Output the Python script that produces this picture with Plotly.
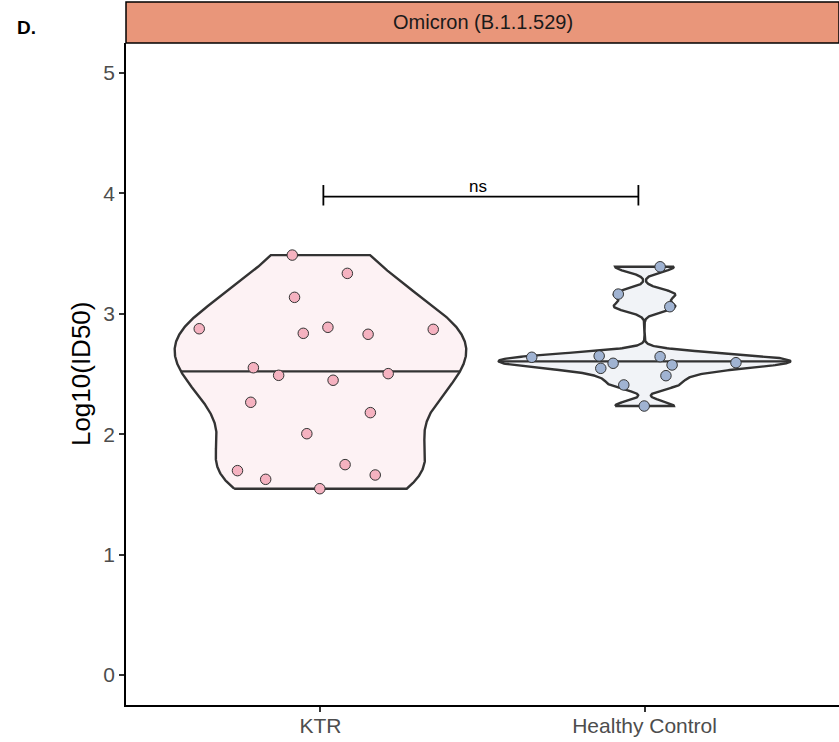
import numpy as np
import plotly.graph_objects as go

# ---------------- data ----------------
categories = ["KTR", "Healthy Control"]
facet_label = "Omicron (B.1.1.529)"
panel_tag = "D."

ktr_values = [3.488, 3.336, 3.137, 2.876, 2.838, 2.888, 2.830, 2.871, 2.552, 2.489,
              2.448, 2.503, 2.265, 2.179, 2.004, 1.697, 1.625, 1.747, 1.661, 1.547]
ktr_jitter = [-0.087, 0.083, -0.080, -0.374, -0.053, 0.023, 0.147, 0.348, -0.207, -0.129,
              0.039, 0.209, -0.215, 0.154, -0.042, -0.256, -0.169, 0.076, 0.169, -0.002]

hc_values = [3.391, 3.164, 3.059, 2.639, 2.650, 2.589, 2.644, 2.575, 2.594, 2.547,
             2.486, 2.409, 2.234]
hc_jitter = [0.048, -0.081, 0.078, -0.348, -0.140, -0.097, 0.048, 0.085, 0.282, -0.135,
             0.066, -0.064, -0.001]

y_ticks = [0, 1, 2, 3, 4, 5]
y_title = "Log10(ID50)"

# significance bracket (comparison KTR vs Healthy Control)
sig_label = "ns"
sig_x = [1.009, 1.981]
sig_y = 3.973
sig_tip = [3.90, 4.07]

# ---------------- styles ----------------
point_colors = ["#F5B2C0", "#A0B3D2"]
violin_fills = ["#FDF2F4", "#F1F3F7"]
outline = "#333333"
violin_width = 0.9
FONT = "Liberation Sans, Arial, sans-serif"


def bw_nrd0(v):
    v = np.asarray(v, dtype=float)
    sd = np.std(v, ddof=1)
    q75, q25 = np.percentile(v, [75, 25])
    lo = min(sd, (q75 - q25) / 1.34)
    return 0.9 * lo * len(v) ** -0.2


def violin_profile(vals):
    v = np.asarray(vals, dtype=float)
    bw = bw_nrd0(v)
    y = np.linspace(v.min(), v.max(), 512)
    d = np.exp(-0.5 * ((y[:, None] - v[None, :]) / bw) ** 2).sum(1) / (len(v) * bw * np.sqrt(2 * np.pi))
    w = d / d.max()
    cdf = np.cumsum(d) / d.sum()
    ymed = float(np.interp(0.5, cdf, y))
    wmed = float(np.interp(ymed, y, w))
    return y, w, ymed, wmed


fig = go.Figure()

groups = [(ktr_values, ktr_jitter), (hc_values, hc_jitter)]
for i, (vals, jit) in enumerate(groups):
    pos = i + 1
    y, w, ymed, wmed = violin_profile(vals)
    half = w * violin_width / 2
    xs = np.concatenate([pos - half, (pos + half)[::-1], [pos - half[0]]])
    ys = np.concatenate([y, y[::-1], [y[0]]])
    fig.add_trace(go.Scatter(x=xs, y=ys, mode="lines", fill="toself",
                             fillcolor=violin_fills[i],
                             line=dict(color=outline, width=2.4),
                             hoverinfo="skip", showlegend=False))
    hm = wmed * violin_width / 2
    fig.add_trace(go.Scatter(x=[pos - hm, pos + hm], y=[ymed, ymed], mode="lines",
                             line=dict(color=outline, width=2.4),
                             hoverinfo="skip", showlegend=False))

for i, (vals, jit) in enumerate(groups):
    pos = i + 1
    fig.add_trace(go.Scatter(x=[pos + j for j in jit], y=vals, mode="markers",
                             marker=dict(size=10.5, color=point_colors[i],
                                         line=dict(color="#333333", width=1)),
                             name=categories[i], showlegend=False))

# significance bracket
fig.add_shape(type="line", xref="x", yref="y", x0=sig_x[0], x1=sig_x[1], y0=sig_y, y1=sig_y,
              line=dict(color="black", width=1.8))
for xx in sig_x:
    fig.add_shape(type="line", xref="x", yref="y", x0=xx, x1=xx, y0=sig_tip[0], y1=sig_tip[1],
                  line=dict(color="black", width=1.8))
fig.add_annotation(x=(sig_x[0] + sig_x[1]) / 2 - 0.008, y=sig_y, xref="x", yref="y", text=sig_label,
                   showarrow=False, yanchor="bottom", yshift=-1,
                   font=dict(family=FONT, size=17, color="black"))

# facet strip
strip_top = 1.062
fig.add_shape(type="rect", xref="paper", yref="paper", x0=0, x1=1, y0=1.0, y1=strip_top,
              fillcolor="#E9967A", line=dict(color="black", width=1.5), layer="above")
fig.add_annotation(x=0.5, y=(1.0 + strip_top) / 2, xref="paper", yref="paper",
                   text=facet_label, showarrow=False, xanchor="center", yanchor="middle",
                   font=dict(family=FONT, size=20, color="#1A1A1A"))

# y-axis title
fig.add_annotation(x=-0.063, y=0.5, xref="paper", yref="paper", text=y_title, textangle=-90,
                   showarrow=False, xanchor="center", yanchor="middle",
                   font=dict(family=FONT, size=26, color="black"))

# panel tag
fig.add_annotation(x=-0.140, y=1.0227, xref="paper", yref="paper", text="<b>" + panel_tag + "</b>",
                   showarrow=False, xanchor="center", yanchor="middle",
                   font=dict(family=FONT, size=19, color="black"))

axis_common = dict(showline=True, linecolor="black", linewidth=1.5, ticks="outside",
                   ticklen=5, tickwidth=1.5, tickcolor="#333333", showgrid=False,
                   zeroline=False, tickfont=dict(family=FONT, size=21, color="#4D4D4D"))

fig.update_layout(
    width=839, height=742,
    margin=dict(l=126, r=0, t=43, b=37),
    paper_bgcolor="white", plot_bgcolor="white",
    xaxis=dict(range=[0.4, 2.6], tickvals=[1, 2], ticktext=categories,
               ticklabelstandoff=-4, **axis_common),
    yaxis=dict(range=[-0.25, 5.25], tickvals=y_ticks, ticktext=[str(t) for t in y_ticks],
               **axis_common),
    showlegend=False,
)

fig.write_html("out.html", config={"displayModeBar": False},
               post_script="document.body.style.margin='0';document.body.style.overflow='hidden';")
